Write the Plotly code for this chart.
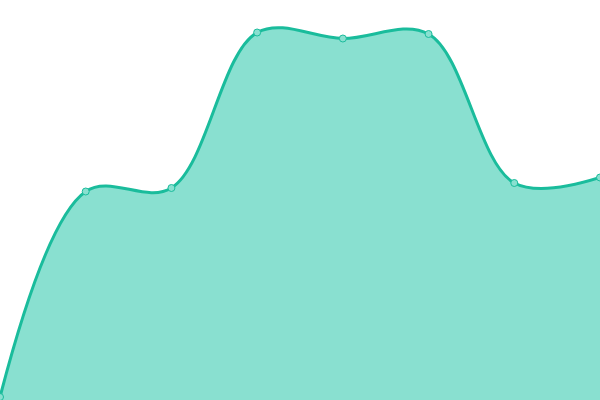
import plotly.graph_objects as go

x_vals = [0, 1, 2, 3, 4, 5, 6, 7]
y_vals = [3, 208.5, 212, 367.5, 361.5, 366, 217, 222.5]

fig = go.Figure()
fig.add_trace(go.Scatter(
    x=x_vals, y=y_vals,
    mode='lines+markers',
    line=dict(color='#1abc9c', width=3, shape='spline', smoothing=1),
    fill='tozeroy',
    fillcolor='rgb(137,224,208)',
    marker=dict(size=7, color='rgb(137,224,208)', line=dict(color='#1abc9c', width=1)),
    hoverinfo='x+y'
))
fig.update_layout(
    width=600, height=400,
    margin=dict(l=0, r=0, t=0, b=0),
    paper_bgcolor='white', plot_bgcolor='white',
    showlegend=False,
    xaxis=dict(range=[0, 7], visible=False),
    yaxis=dict(range=[0, 400], visible=False),
)
fig.write_html("out.html", config={'displayModeBar': False},
               post_script="document.body.style.margin='0';")
